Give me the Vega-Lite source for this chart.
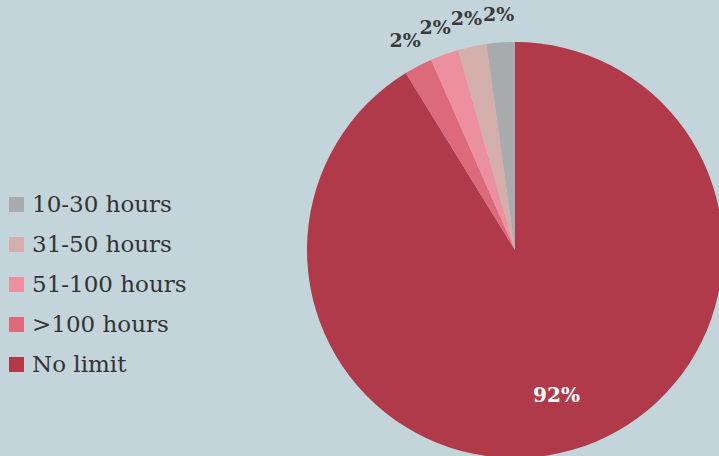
{
  "$schema": "https://vega.github.io/schema/vega-lite/v6.json",
  "width": 1030,
  "height": 500,
  "autosize": {"type": "none"},
  "padding": 0,
  "background": "#c3d4da",
  "config": {"view": {"stroke": null}, "font": "DejaVu Serif", "legend": {"labelFont": "DejaVu Serif"}},
  "data": {"values": [
    {"category": "No limit", "value": 91.2, "outer": "", "inner": "92%", "ord": 1},
    {"category": ">100 hours", "value": 2.2, "outer": "2%", "inner": "", "ord": 2},
    {"category": "51-100 hours", "value": 2.2, "outer": "2%", "inner": "", "ord": 3},
    {"category": "31-50 hours", "value": 2.2, "outer": "2%", "inner": "", "ord": 4},
    {"category": "10-30 hours", "value": 2.2, "outer": "2%", "inner": "", "ord": 5}
  ]},
  "encoding": {
    "theta": {"field": "value", "type": "quantitative", "stack": true},
    "order": {"field": "ord", "type": "quantitative"},
    "color": {
      "field": "category", "type": "nominal",
      "scale": {
        "domain": ["10-30 hours", "31-50 hours", "51-100 hours", ">100 hours", "No limit"],
        "range": ["#a9abaf", "#d4aeab", "#ec90a0", "#dc6a7b", "#b03a4a"]
      },
      "legend": {
        "title": null, "orient": "none", "legendX": 5, "legendY": 193,
        "symbolType": "square", "symbolSize": 225, "symbolStrokeWidth": 0,
        "labelFont": "DejaVu Serif", "labelFontSize": 23, "labelColor": "#333333",
        "rowPadding": 16, "labelOffset": 4
      }
    }
  },
  "layer": [
    {"mark": {"type": "arc", "outerRadius": 208}},
    {
      "mark": {"type": "text", "radius": 236, "fontSize": 19, "fontWeight": "bold", "font": "DejaVu Serif"},
      "encoding": {"text": {"field": "outer"}, "color": {"value": "#3a3a3a"}}
    },
    {
      "mark": {"type": "text", "radius": 152, "fontSize": 20, "fontWeight": "bold", "font": "DejaVu Serif"},
      "encoding": {"text": {"field": "inner"}, "color": {"value": "#ffffff"}}
    }
  ]
}
